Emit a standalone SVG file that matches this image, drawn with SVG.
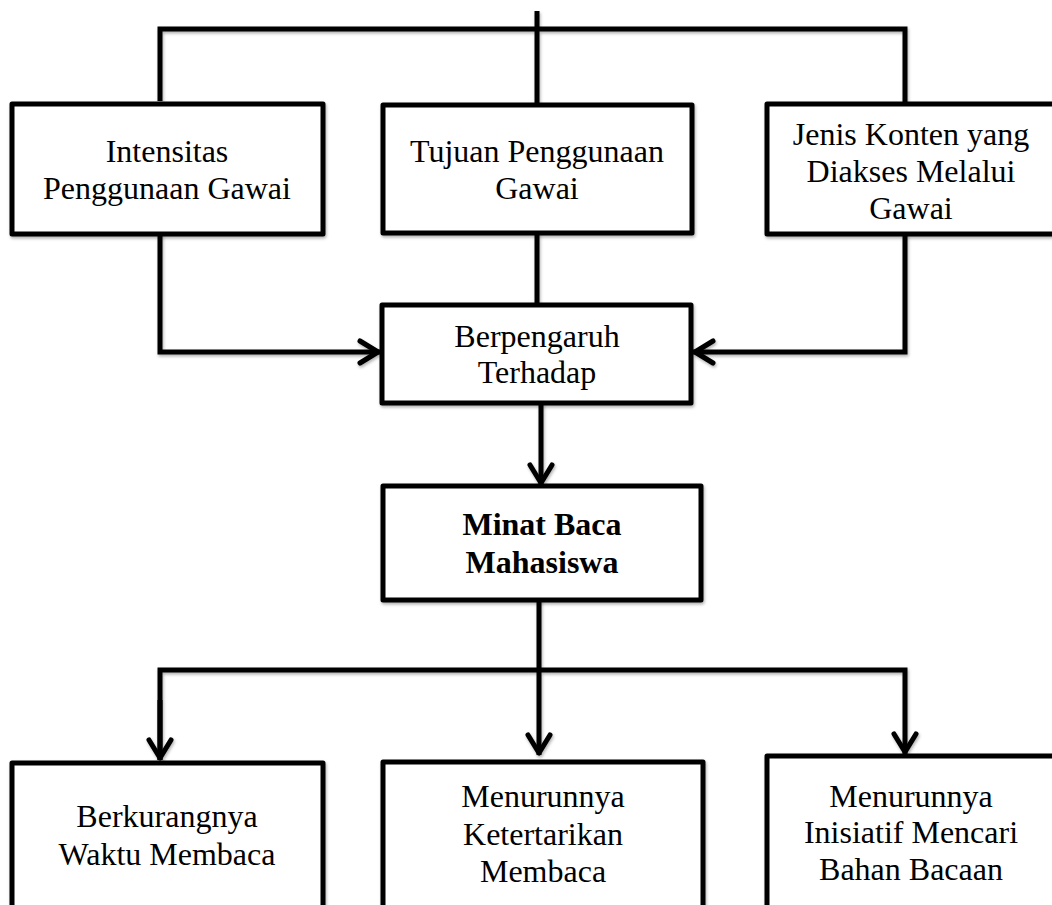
<svg xmlns="http://www.w3.org/2000/svg" width="1052" height="905" viewBox="0 0 1052 905">
<style>
.box{fill:#fff;stroke:#000;stroke-width:5;stroke-linejoin:round;filter:url(#sh)}
.ln{fill:none;stroke:#000;stroke-width:5;stroke-linejoin:miter}
.t{font-family:"Liberation Serif","Times New Roman",serif;font-size:32px;text-anchor:middle;fill:#000}
.b{font-weight:bold}
</style>
<defs>
<filter id="sh" x="-10%" y="-10%" width="120%" height="130%">
<feDropShadow dx="1" dy="2" stdDeviation="1.5" flood-color="#000" flood-opacity="0.3"/>
</filter>
<marker id="arr" markerUnits="userSpaceOnUse" markerWidth="40" markerHeight="40" viewBox="-30 -20 40 40" refX="0" refY="0" orient="auto" overflow="visible">
<path d="M-20,-11 L-2,0 L-20,11" fill="none" stroke="#000" stroke-width="5" stroke-linecap="round" stroke-linejoin="round"/>
</marker>
</defs>
<rect width="1052" height="905" fill="#fff"/>
<g id="connectors" filter="url(#sh)">
<path class="ln" d="M537,11 V104"/>
<path class="ln" d="M160,101 V29 H905 V104"/>
<path class="ln" d="M160,234 V352 H380" marker-end="url(#arr)"/>
<path class="ln" d="M905,234 V352 H693" marker-end="url(#arr)"/>
<path class="ln" d="M537,233 V305"/>
<path class="ln" d="M541,403 V485" marker-end="url(#arr)"/>
<path class="ln" d="M539,600 V755" marker-end="url(#arr)"/>
<path class="ln" d="M160,760 V670 H905 V754" marker-end="url(#arr)"/>
<path class="ln" d="M160,700 V760" marker-end="url(#arr)"/>
</g>
<g id="n1">
<rect class="box" x="12" y="104" width="311" height="130"/>
<text class="t" x="167" y="162">Intensitas</text>
<text class="t" x="167" y="199">Penggunaan Gawai</text>
</g>
<g id="n2">
<rect class="box" x="383" y="105" width="309" height="128"/>
<text class="t" x="537" y="162">Tujuan Penggunaan</text>
<text class="t" x="537" y="199">Gawai</text>
</g>
<g id="n3">
<rect class="box" x="767" y="104" width="300" height="130"/>
<text class="t" x="911" y="145">Jenis Konten yang</text>
<text class="t" x="911" y="182">Diakses Melalui</text>
<text class="t" x="911" y="219">Gawai</text>
</g>
<g id="n4">
<rect class="box" x="382" y="305" width="309" height="98"/>
<text class="t" x="537" y="347">Berpengaruh</text>
<text class="t" x="537" y="383">Terhadap</text>
</g>
<g id="n5">
<rect class="box" x="383" y="486" width="318" height="114"/>
<text class="t b" x="542" y="535">Minat Baca</text>
<text class="t b" x="542" y="573">Mahasiswa</text>
</g>
<g id="n6">
<rect class="box" x="12" y="763" width="311" height="170"/>
<text class="t" x="167" y="827">Berkurangnya</text>
<text class="t" x="167" y="865">Waktu Membaca</text>
</g>
<g id="n7">
<rect class="box" x="383" y="762" width="320" height="170"/>
<text class="t" x="543" y="807">Menurunnya</text>
<text class="t" x="543" y="845">Ketertarikan</text>
<text class="t" x="543" y="882">Membaca</text>
</g>
<g id="n8">
<rect class="box" x="767" y="756" width="300" height="170"/>
<text class="t" x="911" y="807">Menurunnya</text>
<text class="t" x="911" y="843">Inisiatif Mencari</text>
<text class="t" x="911" y="880">Bahan Bacaan</text>
</g>
</svg>
